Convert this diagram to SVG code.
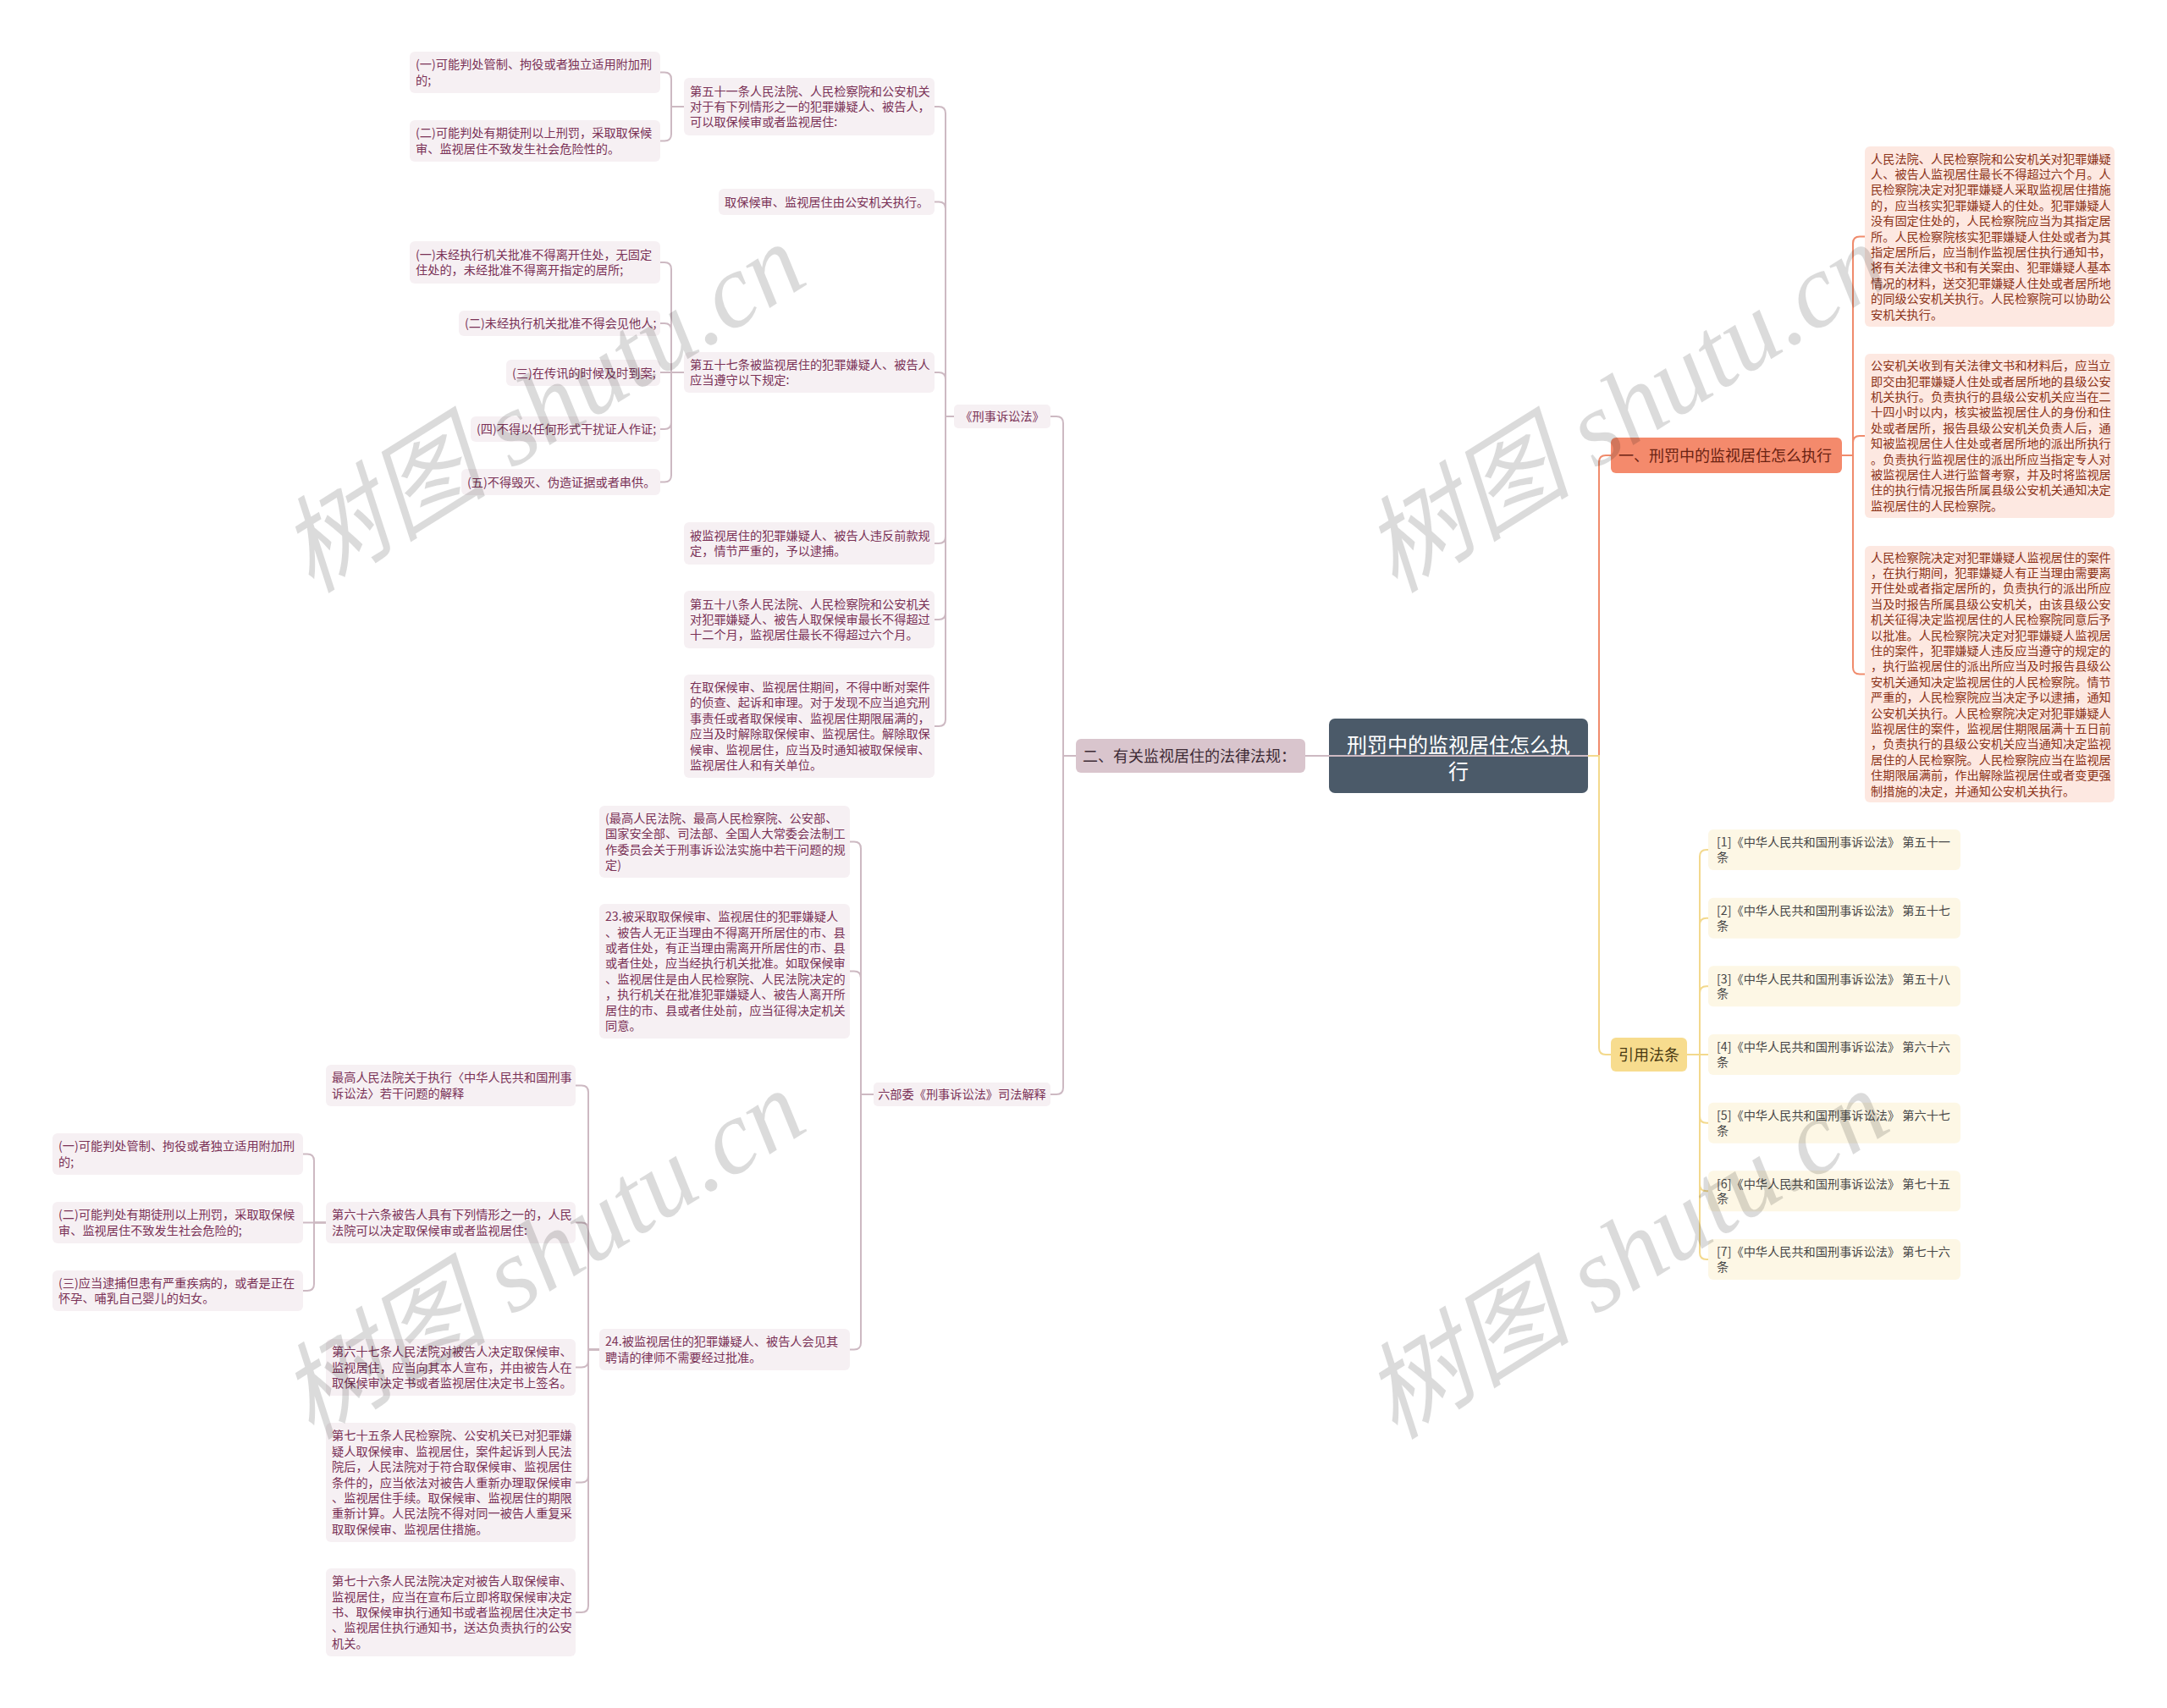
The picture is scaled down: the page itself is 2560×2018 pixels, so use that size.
<svg xmlns="http://www.w3.org/2000/svg" width="2560" height="2018" viewBox="0 0 2560 2018">
<style>
text{font-family:'Noto Sans CJK SC','Noto Sans',sans-serif}
.lf{fill:#f6f0f3}
.lt{font-size:14.2px;fill:#7a3156}
.rf{fill:#fde8e1}
.rt{font-size:14.2px;fill:#8c3318}
.cf{fill:#fdf7e5}
.ct{font-size:14.2px;fill:#474747}
.cn{fill:none;stroke-width:2}
.pk{stroke:#cdb9c2}
.or{stroke:#f08b6c}
.ye{stroke:#f3d98d}
.wm{font-family:'Liberation Serif','Noto Sans CJK SC',serif;font-size:124px;font-style:italic;fill:#000;fill-opacity:0.14}
</style>
<rect width="2560" height="2018" fill="#ffffff"/>

<g id="nodes">
<g id="root"><rect x="1570" y="849" width="306" height="88" rx="7" fill="#4b5a69"/><text x="1723" text-anchor="middle" style="font-size:24px;fill:#ffffff"><tspan x="1723" y="888.5">刑罚中的监视居住怎么执</tspan><tspan x="1723" y="920">行</tspan></text></g>

<g id="b2"><rect x="1271" y="873" width="271" height="40" rx="6" fill="#d9c5cd"/><text x="1279" y="899.5" style="font-size:18px;fill:#3e2b35">二、有关监视居住的法律法规：</text></g>
<g id="b1"><rect x="1903" y="517" width="273" height="42" rx="6" fill="#f48a6c"/><text x="1912" y="544.5" style="font-size:18px;fill:#6a2212">一、刑罚中的监视居住怎么执行</text></g>
<g id="b3"><rect x="1903" y="1226" width="90" height="40" rx="6" fill="#f7dc8e"/><text x="1948" y="1252.5" text-anchor="middle" style="font-size:18px;fill:#4a3a12">引用法条</text></g>

<g id="l1"><rect class="lf" x="1127" y="478" width="114" height="28" rx="5"/><text class="lt" x="1184" y="497" text-anchor="middle">《刑事诉讼法》</text></g>
<g id="l2"><rect class="lf" x="1032" y="1279" width="209" height="28" rx="5"/><text class="lt" x="1136.5" y="1298" text-anchor="middle">六部委《刑事诉讼法》司法解释</text></g>

<g id="n51"><rect class="lf" x="808" y="92" width="296" height="68" rx="6"/><text class="lt"><tspan x="815" y="112.6">第五十一条人民法院、人民检察院和公安机关</tspan><tspan x="815" y="131">对于有下列情形之一的犯罪嫌疑人、被告人，</tspan><tspan x="815" y="149.4">可以取保候审或者监视居住:</tspan></text></g>
<g id="n51a"><rect class="lf" x="484" y="61" width="296" height="49" rx="6"/><text class="lt"><tspan x="491" y="81.3">(一)可能判处管制、拘役或者独立适用附加刑</tspan><tspan x="491" y="99.7">的;</tspan></text></g>
<g id="n51b"><rect class="lf" x="484" y="142" width="296" height="49" rx="6"/><text class="lt"><tspan x="491" y="162.3">(二)可能判处有期徒刑以上刑罚，采取取保候</tspan><tspan x="491" y="180.7">审、监视居住不致发生社会危险性的。</tspan></text></g>
<g id="nqb"><rect class="lf" x="849" y="223" width="255" height="31" rx="6"/><text class="lt" x="856" y="243.5">取保候审、监视居住由公安机关执行。</text></g>
<g id="n57"><rect class="lf" x="808" y="416" width="296" height="48" rx="6"/><text class="lt"><tspan x="815" y="435.8">第五十七条被监视居住的犯罪嫌疑人、被告人</tspan><tspan x="815" y="454.2">应当遵守以下规定:</tspan></text></g>
<g id="n57a"><rect class="lf" x="484" y="285" width="296" height="50" rx="6"/><text class="lt"><tspan x="491" y="305.8">(一)未经执行机关批准不得离开住处，无固定</tspan><tspan x="491" y="324.2">住处的，未经批准不得离开指定的居所;</tspan></text></g>
<g id="n57b"><rect class="lf" x="542" y="367" width="238" height="30" rx="6"/><text class="lt" x="549" y="387">(二)未经执行机关批准不得会见他人;</text></g>
<g id="n57c"><rect class="lf" x="598" y="425" width="182" height="31" rx="6"/><text class="lt" x="605" y="445.5">(三)在传讯的时候及时到案;</text></g>
<g id="n57d"><rect class="lf" x="556" y="492" width="224" height="30" rx="6"/><text class="lt" x="563" y="512">(四)不得以任何形式干扰证人作证;</text></g>
<g id="n57e"><rect class="lf" x="545" y="554" width="235" height="31" rx="6"/><text class="lt" x="552" y="574.5">(五)不得毁灭、伪造证据或者串供。</text></g>
<g id="nbr"><rect class="lf" x="808" y="617" width="296" height="50" rx="6"/><text class="lt"><tspan x="815" y="637.8">被监视居住的犯罪嫌疑人、被告人违反前款规</tspan><tspan x="815" y="656.2">定，情节严重的，予以逮捕。</tspan></text></g>
<g id="n58"><rect class="lf" x="808" y="698" width="296" height="68" rx="6"/><text class="lt"><tspan x="815" y="718.6">第五十八条人民法院、人民检察院和公安机关</tspan><tspan x="815" y="737">对犯罪嫌疑人、被告人取保候审最长不得超过</tspan><tspan x="815" y="755.4">十二个月，监视居住最长不得超过六个月。</tspan></text></g>
<g id="nper"><rect class="lf" x="808" y="797" width="296" height="122" rx="6"/><text class="lt"><tspan x="815" y="817">在取保候审、监视居住期间，不得中断对案件</tspan><tspan x="815" y="835.4">的侦查、起诉和审理。对于发现不应当追究刑</tspan><tspan x="815" y="853.8">事责任或者取保候审、监视居住期限届满的，</tspan><tspan x="815" y="872.2">应当及时解除取保候审、监视居住。解除取保</tspan><tspan x="815" y="890.6">候审、监视居住，应当及时通知被取保候审、</tspan><tspan x="815" y="909">监视居住人和有关单位。</tspan></text></g>

<g id="n6a"><rect class="lf" x="708" y="952" width="296" height="85" rx="6"/><text class="lt"><tspan x="715" y="971.9">(最高人民法院、最高人民检察院、公安部、</tspan><tspan x="715" y="990.3">国家安全部、司法部、全国人大常委会法制工</tspan><tspan x="715" y="1008.7">作委员会关于刑事诉讼法实施中若干问题的规</tspan><tspan x="715" y="1027.1">定)</tspan></text></g>
<g id="n23"><rect class="lf" x="708" y="1068" width="296" height="159" rx="6"/><text class="lt"><tspan x="715" y="1088.1">23.被采取取保候审、监视居住的犯罪嫌疑人</tspan><tspan x="715" y="1106.5">、被告人无正当理由不得离开所居住的市、县</tspan><tspan x="715" y="1124.9">或者住处，有正当理由需离开所居住的市、县</tspan><tspan x="715" y="1143.3">或者住处，应当经执行机关批准。如取保候审</tspan><tspan x="715" y="1161.7">、监视居住是由人民检察院、人民法院决定的</tspan><tspan x="715" y="1180.1">，执行机关在批准犯罪嫌疑人、被告人离开所</tspan><tspan x="715" y="1198.5">居住的市、县或者住处前，应当征得决定机关</tspan><tspan x="715" y="1216.9">同意。</tspan></text></g>
<g id="n24"><rect class="lf" x="708" y="1570" width="296" height="49" rx="6"/><text class="lt"><tspan x="715" y="1590.3">24.被监视居住的犯罪嫌疑人、被告人会见其</tspan><tspan x="715" y="1608.7">聘请的律师不需要经过批准。</tspan></text></g>

<g id="nsup"><rect class="lf" x="385" y="1258" width="295" height="49" rx="6"/><text class="lt"><tspan x="392" y="1278.3">最高人民法院关于执行〈中华人民共和国刑事</tspan><tspan x="392" y="1296.7">诉讼法〉若干问题的解释</tspan></text></g>
<g id="n66"><rect class="lf" x="385" y="1420" width="295" height="49" rx="6"/><text class="lt"><tspan x="392" y="1440.3">第六十六条被告人具有下列情形之一的，人民</tspan><tspan x="392" y="1458.7">法院可以决定取保候审或者监视居住:</tspan></text></g>
<g id="n66a"><rect class="lf" x="62" y="1339" width="296" height="49" rx="6"/><text class="lt"><tspan x="69" y="1359.3">(一)可能判处管制、拘役或者独立适用附加刑</tspan><tspan x="69" y="1377.7">的;</tspan></text></g>
<g id="n66b"><rect class="lf" x="62" y="1420" width="296" height="49" rx="6"/><text class="lt"><tspan x="69" y="1440.3">(二)可能判处有期徒刑以上刑罚，采取取保候</tspan><tspan x="69" y="1458.7">审、监视居住不致发生社会危险的;</tspan></text></g>
<g id="n66c"><rect class="lf" x="62" y="1501" width="296" height="48" rx="6"/><text class="lt"><tspan x="69" y="1520.8">(三)应当逮捕但患有严重疾病的，或者是正在</tspan><tspan x="69" y="1539.2">怀孕、哺乳自己婴儿的妇女。</tspan></text></g>
<g id="n67"><rect class="lf" x="385" y="1582" width="295" height="67" rx="6"/><text class="lt"><tspan x="392" y="1602.1">第六十七条人民法院对被告人决定取保候审、</tspan><tspan x="392" y="1620.5">监视居住，应当向其本人宣布，并由被告人在</tspan><tspan x="392" y="1638.9">取保候审决定书或者监视居住决定书上签名。</tspan></text></g>
<g id="n75"><rect class="lf" x="385" y="1681" width="295" height="141" rx="6"/><text class="lt"><tspan x="392" y="1701.3">第七十五条人民检察院、公安机关已对犯罪嫌</tspan><tspan x="392" y="1719.7">疑人取保候审、监视居住，案件起诉到人民法</tspan><tspan x="392" y="1738.1">院后，人民法院对于符合取保候审、监视居住</tspan><tspan x="392" y="1756.5">条件的，应当依法对被告人重新办理取保候审</tspan><tspan x="392" y="1774.9">、监视居住手续。取保候审、监视居住的期限</tspan><tspan x="392" y="1793.3">重新计算。人民法院不得对同一被告人重复采</tspan><tspan x="392" y="1811.7">取取保候审、监视居住措施。</tspan></text></g>
<g id="n76"><rect class="lf" x="385" y="1853" width="295" height="104" rx="6"/><text class="lt"><tspan x="392" y="1873.2">第七十六条人民法院决定对被告人取保候审、</tspan><tspan x="392" y="1891.6">监视居住，应当在宣布后立即将取保候审决定</tspan><tspan x="392" y="1910">书、取保候审执行通知书或者监视居住决定书</tspan><tspan x="392" y="1928.4">、监视居住执行通知书，送达负责执行的公安</tspan><tspan x="392" y="1946.8">机关。</tspan></text></g>

<g id="r1"><rect class="rf" x="2203" y="173" width="295" height="213" rx="6"/><text class="rt"><tspan x="2210" y="192.5">人民法院、人民检察院和公安机关对犯罪嫌疑</tspan><tspan x="2210" y="210.9">人、被告人监视居住最长不得超过六个月。人</tspan><tspan x="2210" y="229.3">民检察院决定对犯罪嫌疑人采取监视居住措施</tspan><tspan x="2210" y="247.7">的，应当核实犯罪嫌疑人的住处。犯罪嫌疑人</tspan><tspan x="2210" y="266.1">没有固定住处的，人民检察院应当为其指定居</tspan><tspan x="2210" y="284.5">所。人民检察院核实犯罪嫌疑人住处或者为其</tspan><tspan x="2210" y="302.9">指定居所后，应当制作监视居住执行通知书，</tspan><tspan x="2210" y="321.3">将有关法律文书和有关案由、犯罪嫌疑人基本</tspan><tspan x="2210" y="339.7">情况的材料，送交犯罪嫌疑人住处或者居所地</tspan><tspan x="2210" y="358.1">的同级公安机关执行。人民检察院可以协助公</tspan><tspan x="2210" y="376.5">安机关执行。</tspan></text></g>
<g id="r2"><rect class="rf" x="2203" y="418" width="295" height="194" rx="6"/><text class="rt"><tspan x="2210" y="437.2">公安机关收到有关法律文书和材料后，应当立</tspan><tspan x="2210" y="455.6">即交由犯罪嫌疑人住处或者居所地的县级公安</tspan><tspan x="2210" y="474">机关执行。负责执行的县级公安机关应当在二</tspan><tspan x="2210" y="492.4">十四小时以内，核实被监视居住人的身份和住</tspan><tspan x="2210" y="510.8">处或者居所，报告县级公安机关负责人后，通</tspan><tspan x="2210" y="529.2">知被监视居住人住处或者居所地的派出所执行</tspan><tspan x="2210" y="547.6">。负责执行监视居住的派出所应当指定专人对</tspan><tspan x="2210" y="566">被监视居住人进行监督考察，并及时将监视居</tspan><tspan x="2210" y="584.4">住的执行情况报告所属县级公安机关通知决定</tspan><tspan x="2210" y="602.8">监视居住的人民检察院。</tspan></text></g>
<g id="r3"><rect class="rf" x="2203" y="645" width="295" height="303" rx="6"/><text class="rt"><tspan x="2210" y="663.5">人民检察院决定对犯罪嫌疑人监视居住的案件</tspan><tspan x="2210" y="681.9">，在执行期间，犯罪嫌疑人有正当理由需要离</tspan><tspan x="2210" y="700.3">开住处或者指定居所的，负责执行的派出所应</tspan><tspan x="2210" y="718.7">当及时报告所属县级公安机关，由该县级公安</tspan><tspan x="2210" y="737.1">机关征得决定监视居住的人民检察院同意后予</tspan><tspan x="2210" y="755.5">以批准。人民检察院决定对犯罪嫌疑人监视居</tspan><tspan x="2210" y="773.9">住的案件，犯罪嫌疑人违反应当遵守的规定的</tspan><tspan x="2210" y="792.3">，执行监视居住的派出所应当及时报告县级公</tspan><tspan x="2210" y="810.7">安机关通知决定监视居住的人民检察院。情节</tspan><tspan x="2210" y="829.1">严重的，人民检察院应当决定予以逮捕，通知</tspan><tspan x="2210" y="847.5">公安机关执行。人民检察院决定对犯罪嫌疑人</tspan><tspan x="2210" y="865.9">监视居住的案件，监视居住期限届满十五日前</tspan><tspan x="2210" y="884.3">，负责执行的县级公安机关应当通知决定监视</tspan><tspan x="2210" y="902.7">居住的人民检察院。人民检察院应当在监视居</tspan><tspan x="2210" y="921.1">住期限届满前，作出解除监视居住或者变更强</tspan><tspan x="2210" y="939.5">制措施的决定，并通知公安机关执行。</tspan></text></g>

<g id="c1"><rect class="cf" x="2018" y="980" width="298" height="48" rx="6"/><text class="ct"><tspan x="2028" y="1000.3">[1]《中华人民共和国刑事诉讼法》 第五十一</tspan><tspan x="2028" y="1017.8">条</tspan></text></g>
<g id="c2"><rect class="cf" x="2018" y="1060.7" width="298" height="48" rx="6"/><text class="ct"><tspan x="2028" y="1081">[2]《中华人民共和国刑事诉讼法》 第五十七</tspan><tspan x="2028" y="1098.5">条</tspan></text></g>
<g id="c3"><rect class="cf" x="2018" y="1141.3" width="298" height="48" rx="6"/><text class="ct"><tspan x="2028" y="1161.6">[3]《中华人民共和国刑事诉讼法》 第五十八</tspan><tspan x="2028" y="1179.1">条</tspan></text></g>
<g id="c4"><rect class="cf" x="2018" y="1222" width="298" height="48" rx="6"/><text class="ct"><tspan x="2028" y="1242.3">[4]《中华人民共和国刑事诉讼法》 第六十六</tspan><tspan x="2028" y="1259.8">条</tspan></text></g>
<g id="c5"><rect class="cf" x="2018" y="1302.7" width="298" height="48" rx="6"/><text class="ct"><tspan x="2028" y="1323">[5]《中华人民共和国刑事诉讼法》 第六十七</tspan><tspan x="2028" y="1340.5">条</tspan></text></g>
<g id="c6"><rect class="cf" x="2018" y="1383.3" width="298" height="48" rx="6"/><text class="ct"><tspan x="2028" y="1403.6">[6]《中华人民共和国刑事诉讼法》 第七十五</tspan><tspan x="2028" y="1421.1">条</tspan></text></g>
<g id="c7"><rect class="cf" x="2018" y="1464" width="298" height="48" rx="6"/><text class="ct"><tspan x="2028" y="1484.3">[7]《中华人民共和国刑事诉讼法》 第七十六</tspan><tspan x="2028" y="1501.8">条</tspan></text></g>
</g>

<g id="connectors">
<path class="cn pk" d="M1542 893H1876"/>
<path class="cn pk" d="M1271 893H1256V500Q1256 492 1248 492H1241"/>
<path class="cn pk" d="M1271 893H1256V1285Q1256 1293 1248 1293H1241"/>
<path class="cn pk" d="M1127 492H1117V134Q1117 126 1109 126H1104"/>
<path class="cn pk" d="M1127 492H1117V246.5Q1117 238.5 1109 238.5H1104"/>
<path class="cn pk" d="M1127 492H1117V448Q1117 440 1109 440H1104"/>
<path class="cn pk" d="M1127 492H1117V634Q1117 642 1109 642H1104"/>
<path class="cn pk" d="M1127 492H1117V724Q1117 732 1109 732H1104"/>
<path class="cn pk" d="M1127 492H1117V850Q1117 858 1109 858H1104"/>
<path class="cn pk" d="M808 126H793V93.5Q793 85.5 785 85.5H780"/>
<path class="cn pk" d="M808 126H793V158.5Q793 166.5 785 166.5H780"/>
<path class="cn pk" d="M808 440H793V318Q793 310 785 310H780"/>
<path class="cn pk" d="M808 440H793V390Q793 382 785 382H780"/>
<path class="cn pk" d="M808 440H780"/>
<path class="cn pk" d="M808 440H793V499Q793 507 785 507H780"/>
<path class="cn pk" d="M808 440H793V561.5Q793 569.5 785 569.5H780"/>
<path class="cn pk" d="M1032 1293H1017V1002.5Q1017 994.5 1009 994.5H1004"/>
<path class="cn pk" d="M1032 1293H1017V1155.5Q1017 1147.5 1009 1147.5H1004"/>
<path class="cn pk" d="M1032 1293H1017V1586.5Q1017 1594.5 1009 1594.5H1004"/>
<path class="cn pk" d="M708 1594.5H695V1290.5Q695 1282.5 687 1282.5H680"/>
<path class="cn pk" d="M708 1594.5H695V1452.5Q695 1444.5 687 1444.5H680"/>
<path class="cn pk" d="M708 1594.5H695V1607.5Q695 1615.5 687 1615.5H680"/>
<path class="cn pk" d="M708 1594.5H695V1743.5Q695 1751.5 687 1751.5H680"/>
<path class="cn pk" d="M708 1594.5H695V1897Q695 1905 687 1905H680"/>
<path class="cn pk" d="M385 1444.5H371V1371.5Q371 1363.5 363 1363.5H358"/>
<path class="cn pk" d="M385 1444.5H358"/>
<path class="cn pk" d="M385 1444.5H371V1517Q371 1525 363 1525H358"/>
<path class="cn or" d="M1876 893H1889V546Q1889 538 1897 538H1903"/>
<path class="cn or" d="M2176 538H2189V287.5Q2189 279.5 2197 279.5H2203"/>
<path class="cn or" d="M2176 538H2189V523Q2189 515 2197 515H2203"/>
<path class="cn or" d="M2176 538H2189V788.5Q2189 796.5 2197 796.5H2203"/>
<path class="cn ye" d="M1876 893H1889V1238Q1889 1246 1897 1246H1903"/>
<path class="cn ye" d="M1993 1246H2008V1012Q2008 1004 2016 1004H2018"/>
<path class="cn ye" d="M1993 1246H2008V1092.7Q2008 1084.7 2016 1084.7H2018"/>
<path class="cn ye" d="M1993 1246H2008V1173.3Q2008 1165.3 2016 1165.3H2018"/>
<path class="cn ye" d="M1993 1246H2018"/>
<path class="cn ye" d="M1993 1246H2008V1318.7Q2008 1326.7 2016 1326.7H2018"/>
<path class="cn ye" d="M1993 1246H2008V1399.3Q2008 1407.3 2016 1407.3H2018"/>
<path class="cn ye" d="M1993 1246H2008V1480Q2008 1488 2016 1488H2018"/>
</g>

<g id="watermarks">
<text class="wm" x="368" y="702" transform="rotate(-32 368 702)">树图 shutu.cn</text>
<text class="wm" x="368" y="1702" transform="rotate(-32 368 1702)">树图 shutu.cn</text>
<text class="wm" x="1648" y="702" transform="rotate(-32 1648 702)">树图 shutu.cn</text>
<text class="wm" x="1648" y="1702" transform="rotate(-32 1648 1702)">树图 shutu.cn</text>
</g>
</svg>
